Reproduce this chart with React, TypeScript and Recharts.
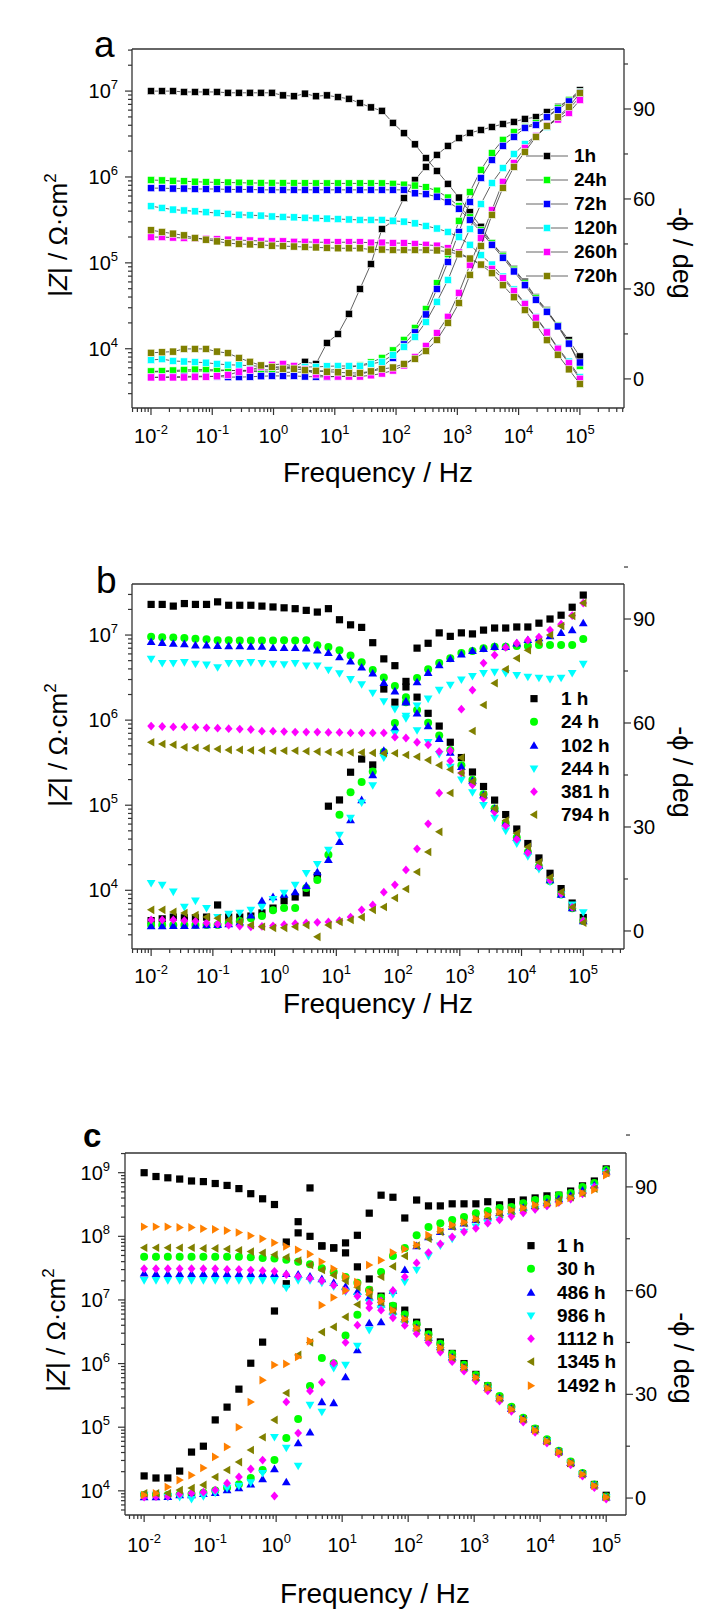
import React from "react";
import { ScatterChart, Scatter, XAxis, YAxis, Legend, ReferenceLine } from "recharts";

const FONT = '"Liberation Sans", Arial, Helvetica, sans-serif';
const AXIS = "#333333";

// measured frequencies, Hz (same set for every curve)
const FREQ = [0.01, 0.01512, 0.02286, 0.03455, 0.05223, 0.07897, 0.1194, 0.1805, 0.2728, 0.4125, 0.6236, 0.9427, 1.425, 2.154, 3.257, 4.924, 7.444, 11.25, 17.01, 25.72, 38.88, 58.78, 88.86, 134.3, 203.1, 307.0, 464.2, 701.7, 1061, 1604, 2424, 3665, 5541, 8377, 12660, 19150, 28940, 43750, 66140, 100000];

// ---- panel a : log10 |Z| and -phase (deg)
const aZ1h = [7.00, 7.00, 7.00, 6.99, 6.99, 6.99, 6.99, 6.98, 6.98, 6.98, 6.98, 6.98, 6.95, 6.94, 6.97, 6.94, 6.95, 6.93, 6.91, 6.86, 6.81, 6.77, 6.63, 6.51, 6.38, 6.22, 6.07, 5.92, 5.76, 5.59, 5.42, 5.23, 5.09, 4.93, 4.78, 4.60, 4.45, 4.27, 4.10, 3.91];
const aP1h = [2.3, 2.4, 2.5, 2.6, 2.6, 2.7, 2.7, 2.8, 2.8, 2.9, 3.0, 3.0, 3.4, 4.2, 5.7, 5.0, 12.0, 15.0, 21.7, 30.0, 38.3, 50.0, 52.7, 60.3, 66.3, 70.7, 74.7, 77.7, 80.3, 82.0, 83.0, 84.0, 85.0, 85.7, 86.7, 87.3, 89.0, 90.7, 93.0, 96.3];
const aZ24h = [5.965, 5.96, 5.955, 5.95, 5.945, 5.94, 5.937, 5.935, 5.933, 5.93, 5.93, 5.93, 5.928, 5.927, 5.926, 5.925, 5.925, 5.925, 5.925, 5.925, 5.925, 5.925, 5.92, 5.91, 5.90, 5.88, 5.84, 5.76, 5.66, 5.53, 5.38, 5.23, 5.08, 4.92, 4.76, 4.59, 4.44, 4.27, 4.07, 3.80];
const aP24h = [2.5, 2.6, 2.8, 3.0, 3.1, 3.1, 3.0, 2.9, 2.7, 2.5, 2.4, 2.3, 2.2, 2.2, 2.3, 2.5, 2.8, 3.2, 3.8, 4.5, 5.5, 7.0, 9.5, 13.0, 17.0, 23.3, 31.9, 41.6, 52.7, 62.3, 69.7, 75.3, 79.7, 82.3, 84.0, 85.3, 87.3, 90.3, 93.0, 95.7];
const aZ72h = [5.87, 5.87, 5.865, 5.865, 5.86, 5.86, 5.86, 5.855, 5.855, 5.855, 5.85, 5.85, 5.85, 5.85, 5.85, 5.85, 5.85, 5.85, 5.85, 5.85, 5.85, 5.85, 5.85, 5.85, 5.81, 5.80, 5.77, 5.71, 5.63, 5.50, 5.36, 5.21, 5.06, 4.90, 4.74, 4.57, 4.43, 4.26, 4.06, 3.84];
const aP72h = [0.5, 0.6, 0.7, 0.8, 0.9, 0.9, 0.8, 0.6, 0.6, 0.7, 0.9, 1.0, 1.0, 1.0, 0.8, 0.7, 0.7, 0.8, 1.0, 1.5, 2.5, 4.0, 7.0, 11.5, 15.5, 21.5, 30.0, 39.0, 49.0, 59.0, 67.0, 73.0, 77.7, 80.7, 83.7, 84.7, 87.3, 89.7, 92.5, 95.5];
const aZ120h = [5.66, 5.64, 5.62, 5.61, 5.60, 5.59, 5.58, 5.57, 5.56, 5.555, 5.55, 5.54, 5.535, 5.53, 5.525, 5.52, 5.515, 5.51, 5.505, 5.50, 5.50, 5.50, 5.49, 5.48, 5.46, 5.43, 5.40, 5.36, 5.30, 5.21, 5.09, 4.98, 4.84, 4.69, 4.53, 4.37, 4.20, 4.01, 3.85, 3.67];
const aP120h = [6.3, 6.6, 6.0, 5.8, 5.6, 5.4, 5.0, 4.7, 4.6, 4.4, 4.2, 4.0, 4.0, 4.0, 4.0, 4.0, 4.2, 4.3, 4.3, 4.3, 5.0, 5.7, 8.0, 10.7, 14.0, 19.0, 25.7, 33.0, 42.0, 50.0, 58.3, 65.3, 70.3, 75.0, 78.3, 81.0, 84.0, 87.0, 90.0, 94.0];
const aZ260h = [5.30, 5.30, 5.295, 5.29, 5.285, 5.28, 5.275, 5.27, 5.265, 5.26, 5.255, 5.25, 5.25, 5.245, 5.245, 5.24, 5.24, 5.24, 5.24, 5.24, 5.235, 5.235, 5.23, 5.23, 5.22, 5.21, 5.20, 5.17, 5.12, 5.05, 4.98, 4.93, 4.82, 4.67, 4.52, 4.36, 4.19, 4.00, 3.83, 3.65];
const aP260h = [0.5, 0.5, 0.5, 0.5, 0.7, 0.7, 0.9, 1.3, 2.4, 3.0, 4.0, 4.7, 5.0, 4.3, 3.2, 1.5, 0.8, 0.8, 0.8, 0.8, 1.2, 1.8, 2.8, 4.5, 7.3, 11.0, 15.3, 20.7, 28.7, 38.0, 47.0, 56.3, 65.7, 72.0, 77.0, 81.0, 84.5, 86.5, 88.7, 93.0];
const aZ720h = [5.38, 5.36, 5.34, 5.32, 5.29, 5.27, 5.25, 5.23, 5.22, 5.215, 5.21, 5.20, 5.195, 5.19, 5.185, 5.18, 5.175, 5.17, 5.17, 5.17, 5.155, 5.155, 5.15, 5.15, 5.15, 5.15, 5.145, 5.13, 5.10, 5.05, 4.98, 4.88, 4.74, 4.60, 4.45, 4.28, 4.10, 3.93, 3.76, 3.59];
const aP720h = [8.7, 8.9, 9.1, 10.0, 10.0, 10.0, 9.1, 8.6, 7.0, 5.7, 4.5, 4.0, 3.4, 3.4, 2.9, 2.7, 2.4, 2.2, 2.0, 2.0, 2.5, 3.3, 3.8, 5.0, 6.7, 9.3, 13.0, 18.7, 25.3, 34.7, 44.3, 54.7, 63.7, 70.7, 75.7, 80.7, 84.3, 87.3, 90.7, 95.3];

// ---- panel b
const bZ1h = [7.36, 7.36, 7.34, 7.37, 7.36, 7.36, 7.39, 7.35, 7.35, 7.35, 7.34, 7.33, 7.32, 7.31, 7.29, 7.27, 7.31, 7.18, 7.12, 7.09, 6.91, 6.72, 6.64, 6.39, 6.27, 6.08, 5.93, 5.74, 5.56, 5.39, 5.22, 5.06, 4.89, 4.72, 4.55, 4.38, 4.20, 4.02, 3.85, 3.68];
const bP1h = [3.0, 3.5, 4.0, 3.8, 3.8, 4.0, 7.5, 4.0, 4.0, 4.3, 5.2, 6.6, 8.7, 9.8, 11.0, 15.9, 36.0, 37.8, 45.8, 49.6, 47.9, 69.8, 66.0, 72.0, 81.6, 83.0, 86.0, 85.0, 86.0, 85.7, 86.8, 87.4, 87.4, 87.7, 87.7, 88.8, 90.0, 91.1, 93.4, 96.9];
const bZ24h = [6.98, 6.975, 6.97, 6.965, 6.955, 6.95, 6.94, 6.94, 6.935, 6.935, 6.935, 6.935, 6.94, 6.935, 6.94, 6.88, 6.86, 6.82, 6.76, 6.68, 6.59, 6.50, 6.40, 6.27, 6.12, 5.97, 5.82, 5.65, 5.47, 5.30, 5.13, 4.96, 4.79, 4.62, 4.45, 4.28, 4.11, 3.95, 3.79, 3.64];
const bP24h = [1.7, 1.7, 1.7, 1.7, 1.7, 1.7, 1.7, 2.3, 2.9, 3.7, 4.3, 6.0, 6.6, 6.6, 12.4, 14.7, 22.0, 33.5, 40.0, 43.0, 46.0, 51.6, 60.0, 66.0, 73.0, 75.5, 77.3, 78.7, 80.2, 80.8, 81.6, 82.0, 82.0, 82.2, 82.2, 82.5, 82.5, 82.5, 82.5, 84.2];
const bZ102h = [6.92, 6.91, 6.90, 6.895, 6.88, 6.88, 6.875, 6.87, 6.87, 6.865, 6.865, 6.85, 6.85, 6.85, 6.845, 6.82, 6.79, 6.74, 6.69, 6.62, 6.55, 6.44, 6.34, 6.22, 6.08, 5.93, 5.78, 5.62, 5.45, 5.29, 5.12, 4.96, 4.79, 4.62, 4.46, 4.29, 4.12, 3.95, 3.79, 3.64];
const bP102h = [1.4, 1.4, 1.5, 1.5, 1.6, 1.7, 1.8, 2.0, 2.5, 4.5, 8.7, 9.8, 10.5, 11.2, 13.0, 17.0, 20.5, 25.7, 32.0, 37.8, 45.0, 52.0, 58.6, 66.0, 71.8, 74.5, 76.7, 78.5, 79.8, 80.8, 81.4, 82.0, 82.0, 83.0, 84.0, 84.5, 85.1, 86.0, 86.8, 88.8];
const bZ244h = [6.72, 6.67, 6.67, 6.68, 6.66, 6.65, 6.62, 6.67, 6.67, 6.68, 6.67, 6.66, 6.655, 6.67, 6.64, 6.64, 6.59, 6.55, 6.48, 6.42, 6.32, 6.22, 6.13, 6.02, 5.88, 5.74, 5.60, 5.45, 5.30, 5.15, 5.00, 4.85, 4.70, 4.55, 4.40, 4.25, 4.10, 3.95, 3.83, 3.74];
const bP244h = [13.8, 13.3, 11.3, 6.9, 8.7, 6.6, 4.0, 4.9, 5.2, 6.1, 6.9, 9.2, 11.0, 13.3, 16.7, 19.3, 23.4, 27.7, 32.6, 37.0, 42.0, 50.0, 57.0, 62.0, 65.0, 67.0, 69.5, 71.0, 72.5, 73.5, 74.4, 74.7, 74.4, 73.8, 73.3, 73.0, 72.7, 73.0, 74.4, 77.0];
const bZ381h = [5.93, 5.925, 5.92, 5.92, 5.915, 5.91, 5.905, 5.90, 5.895, 5.89, 5.87, 5.87, 5.865, 5.86, 5.86, 5.86, 5.855, 5.855, 5.85, 5.85, 5.85, 5.85, 5.80, 5.79, 5.74, 5.71, 5.63, 5.52, 5.38, 5.24, 5.08, 4.92, 4.76, 4.60, 4.44, 4.28, 4.12, 3.96, 3.80, 3.64];
const bP381h = [3.2, 3.2, 3.2, 3.0, 2.8, 2.3, 2.0, 1.7, 1.4, 1.2, 1.3, 1.5, 1.8, 2.1, 2.3, 2.5, 2.6, 3.0, 4.0, 6.1, 7.5, 11.2, 13.3, 17.6, 23.7, 30.9, 39.8, 52.0, 64.0, 69.5, 77.3, 79.6, 81.8, 83.0, 83.9, 84.8, 86.8, 88.5, 91.0, 94.6];
const bZ794h = [5.74, 5.72, 5.71, 5.68, 5.675, 5.67, 5.66, 5.65, 5.65, 5.645, 5.645, 5.64, 5.64, 5.64, 5.635, 5.63, 5.625, 5.62, 5.62, 5.62, 5.615, 5.61, 5.61, 5.59, 5.57, 5.53, 5.47, 5.42, 5.38, 5.28, 5.12, 4.96, 4.82, 4.67, 4.51, 4.33, 4.15, 3.98, 3.80, 3.62];
const bP794h = [6.1, 6.1, 5.5, 5.2, 4.6, 4.0, 3.7, 3.2, 2.6, 1.7, 1.2, 0.9, 0.9, 1.2, 1.7, -1.7, 1.7, 2.6, 3.2, 4.0, 6.1, 6.9, 9.5, 12.1, 17.0, 22.8, 28.6, 39.8, 50.0, 57.7, 65.2, 71.5, 75.5, 78.7, 81.0, 83.4, 85.4, 88.0, 90.9, 94.6];

// ---- panel c
const cZ1h = [9.00, 8.94, 8.92, 8.90, 8.87, 8.86, 8.83, 8.80, 8.75, 8.67, 8.59, 8.50, 7.91, 8.23, 8.00, 7.85, 7.82, 7.74, 7.52, 7.33, 7.06, 6.90, 6.84, 6.65, 6.50, 6.34, 6.16, 6.00, 5.83, 5.65, 5.47, 5.30, 5.13, 4.97, 4.78, 4.61, 4.43, 4.27, 4.10, 3.93];
const cP1h = [6.4, 5.8, 5.8, 7.8, 13.3, 15.0, 22.6, 26.3, 31.5, 39.0, 45.1, 54.1, 62.0, 76.7, 89.7, 72.9, 72.3, 73.8, 76.0, 82.4, 87.6, 87.0, 81.0, 86.2, 84.5, 84.5, 85.1, 85.1, 85.1, 85.7, 84.8, 85.7, 86.2, 86.8, 87.4, 87.6, 88.8, 90.3, 91.7, 95.2];
const cZ30h = [7.68, 7.68, 7.68, 7.68, 7.68, 7.68, 7.68, 7.68, 7.68, 7.67, 7.66, 7.65, 7.63, 7.60, 7.56, 7.50, 7.44, 7.36, 7.27, 7.16, 7.04, 6.91, 6.77, 6.62, 6.46, 6.31, 6.15, 5.98, 5.82, 5.65, 5.49, 5.32, 5.15, 4.98, 4.81, 4.63, 4.46, 4.28, 4.10, 3.91];
const cP30h = [0.9, 0.9, 0.9, 1.0, 1.2, 1.5, 2.2, 3.0, 4.0, 5.8, 8.1, 11.0, 17.4, 22.9, 32.4, 40.5, 39.0, 47.0, 53.0, 60.0, 65.4, 70.0, 72.3, 76.0, 78.4, 79.5, 80.4, 81.3, 82.4, 83.0, 83.9, 84.2, 85.3, 86.2, 86.6, 87.6, 88.2, 90.0, 91.1, 94.9];
const cZ486h = [7.42, 7.41, 7.41, 7.41, 7.41, 7.41, 7.41, 7.41, 7.41, 7.41, 7.41, 7.41, 7.41, 7.40, 7.37, 7.33, 7.27, 7.21, 7.13, 7.04, 6.93, 6.82, 6.70, 6.56, 6.41, 6.26, 6.10, 5.94, 5.78, 5.62, 5.46, 5.29, 5.13, 4.96, 4.79, 4.62, 4.44, 4.27, 4.09, 3.90];
const cP486h = [0.3, 0.3, 0.4, 0.9, 0.9, 1.2, 1.5, 2.3, 2.9, 4.0, 5.5, 8.4, 4.6, 15.9, 19.0, 27.8, 27.5, 35.0, 42.8, 50.6, 50.9, 60.0, 66.0, 72.9, 75.5, 77.0, 78.5, 79.5, 80.5, 81.5, 82.5, 83.0, 84.0, 84.5, 85.5, 86.5, 87.5, 89.0, 90.5, 94.5];
const cZ986h = [7.31, 7.31, 7.31, 7.31, 7.31, 7.31, 7.31, 7.31, 7.31, 7.31, 7.31, 7.31, 7.19, 7.31, 7.31, 7.27, 7.21, 7.13, 7.05, 6.96, 6.86, 6.74, 6.62, 6.49, 6.36, 6.21, 6.06, 5.91, 5.76, 5.60, 5.44, 5.28, 5.11, 4.95, 4.78, 4.61, 4.44, 4.26, 4.08, 3.90];
const cP986h = [0.9, 0.9, 0.3, 0.3, -0.3, 0.5, 1.5, 2.9, 3.5, 4.5, 7.2, 17.6, 14.5, 9.3, 26.9, 24.9, 37.6, 38.5, 44.0, 48.6, 54.7, 59.0, 62.5, 66.0, 70.0, 73.0, 75.0, 77.0, 78.5, 79.5, 80.5, 81.5, 82.5, 83.5, 84.5, 85.5, 86.5, 88.0, 90.0, 94.0];
const cZ1112h = [7.49, 7.49, 7.49, 7.49, 7.49, 7.49, 7.49, 7.48, 7.48, 7.47, 7.46, 7.45, 7.40, 7.37, 7.34, 7.30, 7.23, 7.15, 7.06, 6.95, 6.84, 6.72, 6.60, 6.47, 6.33, 6.18, 6.03, 5.88, 5.73, 5.57, 5.41, 5.25, 5.08, 4.92, 4.75, 4.58, 4.41, 4.23, 4.05, 3.87];
const cP1112h = [0.3, 0.4, 0.5, 1.2, 1.4, 1.7, 2.3, 4.3, 6.1, 8.4, 11.0, 0.6, 27.8, 18.8, 31.0, 33.5, 39.0, 45.0, 50.0, 55.0, 57.0, 60.0, 64.0, 68.0, 71.0, 73.5, 75.5, 77.0, 78.0, 79.5, 80.5, 81.5, 82.5, 83.5, 84.5, 85.5, 86.5, 88.0, 90.0, 94.0];
const cZ1345h = [7.82, 7.82, 7.82, 7.82, 7.82, 7.81, 7.81, 7.80, 7.78, 7.76, 7.74, 7.71, 7.67, 7.62, 7.55, 7.47, 7.39, 7.30, 7.20, 7.08, 6.96, 6.83, 6.69, 6.55, 6.40, 6.25, 6.09, 5.94, 5.78, 5.62, 5.45, 5.29, 5.12, 4.95, 4.78, 4.61, 4.44, 4.26, 4.08, 3.90];
const cP1345h = [1.4, 1.4, 1.4, 2.3, 2.9, 3.8, 6.1, 8.1, 10.4, 13.9, 17.6, 22.6, 30.4, 41.4, 45.0, 48.0, 49.5, 52.4, 56.0, 60.0, 64.0, 67.0, 70.0, 73.0, 75.0, 77.0, 78.5, 79.5, 80.5, 81.5, 82.2, 83.0, 83.8, 84.5, 85.3, 86.2, 87.0, 88.2, 89.5, 94.0];
const cZ1492h = [8.15, 8.15, 8.15, 8.14, 8.14, 8.12, 8.11, 8.09, 8.06, 8.01, 7.96, 7.90, 7.84, 7.79, 7.72, 7.60, 7.49, 7.37, 7.25, 7.12, 6.98, 6.84, 6.70, 6.56, 6.41, 6.25, 6.10, 5.94, 5.78, 5.61, 5.45, 5.28, 5.12, 4.95, 4.78, 4.61, 4.44, 4.26, 4.08, 3.90];
const cP1492h = [0.9, 1.4, 3.2, 5.2, 6.6, 8.7, 11.9, 14.8, 20.5, 27.8, 34.1, 38.5, 38.8, 40.8, 45.4, 55.8, 58.0, 60.0, 62.5, 67.4, 68.8, 71.0, 72.0, 73.2, 76.1, 77.5, 79.0, 79.8, 80.8, 81.9, 82.7, 83.3, 83.9, 84.8, 85.0, 85.3, 86.8, 88.2, 89.1, 93.4];

// ---- axes
const X_LABELS = [-2, -1, 0, 1, 2, 3, 4, 5];
const DECADES = [-3, -2, -1, 0, 1, 2, 3, 4, 5, 6, 7, 8, 9];
const MANTISSA = [1, 2, 3, 4, 5, 6, 7, 8, 9];
const PHASE_TICKS = [0, 15, 30, 45, 60, 75, 90, 105];
const PHASE_LABELS = [0, 30, 60, 90];

const BLACK = "#000000";
const GREEN = "#00ff00";
const BLUE = "#0000ff";
const CYAN = "#00ffff";
const MAGENTA = "#ff00ff";
const OLIVE = "#808000";
const ORANGE = "#ff8000";

type Kind = "square" | "circle" | "up" | "down" | "diamond" | "left" | "right";
type Series = { name: string; color: string; kind: Kind; z: number[]; p: number[] };

const A_SERIES: Series[] = [
  { name: "1h", color: BLACK, kind: "square", z: aZ1h, p: aP1h },
  { name: "24h", color: GREEN, kind: "square", z: aZ24h, p: aP24h },
  { name: "72h", color: BLUE, kind: "square", z: aZ72h, p: aP72h },
  { name: "120h", color: CYAN, kind: "square", z: aZ120h, p: aP120h },
  { name: "260h", color: MAGENTA, kind: "square", z: aZ260h, p: aP260h },
  { name: "720h", color: OLIVE, kind: "square", z: aZ720h, p: aP720h },
];
const B_SERIES: Series[] = [
  { name: "1 h", color: BLACK, kind: "square", z: bZ1h, p: bP1h },
  { name: "24 h", color: GREEN, kind: "circle", z: bZ24h, p: bP24h },
  { name: "102 h", color: BLUE, kind: "up", z: bZ102h, p: bP102h },
  { name: "244 h", color: CYAN, kind: "down", z: bZ244h, p: bP244h },
  { name: "381 h", color: MAGENTA, kind: "diamond", z: bZ381h, p: bP381h },
  { name: "794 h", color: OLIVE, kind: "left", z: bZ794h, p: bP794h },
];
const C_SERIES: Series[] = [
  { name: "1 h", color: BLACK, kind: "square", z: cZ1h, p: cP1h },
  { name: "30 h", color: GREEN, kind: "circle", z: cZ30h, p: cP30h },
  { name: "486 h", color: BLUE, kind: "up", z: cZ486h, p: cP486h },
  { name: "986 h", color: CYAN, kind: "down", z: cZ986h, p: cP986h },
  { name: "1112 h", color: MAGENTA, kind: "diamond", z: cZ1112h, p: cP1112h },
  { name: "1345 h", color: OLIVE, kind: "left", z: cZ1345h, p: cP1345h },
  { name: "1492 h", color: ORANGE, kind: "right", z: cZ1492h, p: cP1492h },
];

const zRows = (arr: number[]) => FREQ.map((f, i) => ({ f, v: Math.pow(10, arr[i]) }));
const pRows = (arr: number[]) => FREQ.map((f, i) => ({ f, v: arr[i] }));

function logTicks(dom: number[]) {
  const out: number[] = [];
  DECADES.forEach((d) =>
    MANTISSA.forEach((m) => {
      const v = m * Math.pow(10, d);
      if (v >= dom[0] && v <= dom[1]) out.push(v);
    })
  );
  return out;
}

function Mark({ kind, cx, cy, color, outline }: { kind: Kind; cx: number; cy: number; color: string; outline?: boolean }) {
  const st = outline ? { stroke: "#ffffff", strokeWidth: 0.6 } : { stroke: "none" };
  if (kind === "square") return <rect x={cx - 3.6} y={cy - 3.6} width={7.2} height={7.2} fill={color} {...st} />;
  if (kind === "circle") return <circle cx={cx} cy={cy} r={4} fill={color} {...st} />;
  let d = "";
  if (kind === "up") d = `M${cx},${cy - 4.4} L${cx + 4.4},${cy + 3.2} L${cx - 4.4},${cy + 3.2} Z`;
  if (kind === "down") d = `M${cx},${cy + 4.4} L${cx + 4.4},${cy - 3.2} L${cx - 4.4},${cy - 3.2} Z`;
  if (kind === "left") d = `M${cx - 4.2},${cy} L${cx + 3.2},${cy - 4.3} L${cx + 3.2},${cy + 4.3} Z`;
  if (kind === "right") d = `M${cx + 4.2},${cy} L${cx - 3.2},${cy - 4.3} L${cx - 3.2},${cy + 4.3} Z`;
  if (kind === "diamond") d = `M${cx},${cy - 4.4} L${cx + 3.9},${cy} L${cx},${cy + 4.4} L${cx - 3.9},${cy} Z`;
  return <path d={d} fill={color} {...st} />;
}

const isDecade = (v: number) => {
  const e = Math.log10(v);
  return Math.abs(e - Math.round(e)) < 1e-6;
};

function Pow({ x, y, e, anchor }: { x: number; y: number; e: number; anchor: "start" | "middle" | "end" }) {
  return (
    <text x={x} y={y} textAnchor={anchor} fontFamily={FONT} fontSize={20} fill="#000">
      10
      <tspan fontSize={13} dy={-9}>
        {e}
      </tspan>
    </text>
  );
}

type Cfg = {
  top: number;
  height: number;
  mTop: number;
  leftW: number;
  rightW: number;
  xAxisH: number;
  xDom: number[];
  zDom: number[];
  pDom: number[];
  xLabelDy: number;
  zGap: number;
  zLabels: number[];
  series: Series[];
  connect: boolean;
  legend: { left: number; top: number; rowH: number; svgW: number; gap: number };
};

const PANEL_A: Cfg = {
  top: 0, height: 500, mTop: 49, leftW: 132, rightW: 92, xAxisH: 92,
  xDom: [0.0049, 525000], zDom: [2042, 3.09e7], pDom: [-9.7, 110],
  xLabelDy: 35, zGap: 14, zLabels: [4, 5, 6, 7], series: A_SERIES, connect: true,
  legend: { left: 525, top: 144, rowH: 24, svgW: 44, gap: 5 },
};
const PANEL_B: Cfg = {
  top: 520, height: 500, mTop: 64, leftW: 132, rightW: 92, xAxisH: 71,
  xDom: [0.0049, 457000], zDom: [2042, 3.98e7], pDom: [-5.2, 100.1],
  xLabelDy: 34, zGap: 14, zLabels: [4, 5, 6, 7], series: B_SERIES, connect: false,
  legend: { left: 521, top: 167, rowH: 23.3, svgW: 26, gap: 14 },
};
const PANEL_C: Cfg = {
  top: 1080, height: 538, mTop: 73, leftW: 125, rightW: 90, xAxisH: 103,
  xDom: [0.00513, 199500], zDom: [4169, 2.04e9], pDom: [-4.9, 99.8],
  xLabelDy: 37, zGap: 15, zLabels: [4, 5, 6, 7, 8, 9], series: C_SERIES, connect: false,
  legend: { left: 518, top: 154, rowH: 23.3, svgW: 26, gap: 13 },
};

function Panel({ cfg }: { cfg: Cfg }) {
  const xTicks = logTicks(cfg.xDom);
  const zTicks = logTicks(cfg.zDom);
  const axisLine = { stroke: AXIS, strokeWidth: 1.3 };
  const lg = cfg.legend;

  const xTick = (p: any) => {
    const v = p.payload.value;
    const major = isDecade(v);
    const e = Math.round(Math.log10(v));
    return (
      <g>
        <line x1={p.x} x2={p.x} y1={p.y} y2={p.y + (major ? 7 : 4)} stroke={AXIS} strokeWidth={1.2} />
        {major && X_LABELS.includes(e) && <Pow x={p.x} y={p.y + cfg.xLabelDy} e={e} anchor="middle" />}
      </g>
    );
  };
  const zTick = (p: any) => {
    const v = p.payload.value;
    const major = isDecade(v);
    const e = Math.round(Math.log10(v));
    return (
      <g>
        <line x1={p.x} x2={p.x - (major ? 7 : 4)} y1={p.y} y2={p.y} stroke={AXIS} strokeWidth={1.2} />
        {major && cfg.zLabels.includes(e) && <Pow x={p.x - cfg.zGap} y={p.y + 7} e={e} anchor="end" />}
      </g>
    );
  };
  const pTick = (p: any) => {
    const v = p.payload.value;
    const major = PHASE_LABELS.includes(v);
    return (
      <g>
        <line x1={p.x} x2={p.x + (major ? 7 : 4)} y1={p.y} y2={p.y} stroke={AXIS} strokeWidth={1.2} />
        {major && (
          <text x={p.x + 9} y={p.y + 7} fontFamily={FONT} fontSize={20} fill="#000">
            {v}
          </text>
        )}
      </g>
    );
  };

  const legendBox = () => (
    <div style={{ fontFamily: FONT }}>
      {cfg.series.map((s) => (
        <div key={s.name} style={{ display: "flex", alignItems: "center", height: lg.rowH }}>
          <svg width={lg.svgW} height={lg.rowH} style={{ display: "block" }}>
            {cfg.connect && (
              <line x1={1} x2={lg.svgW - 1} y1={lg.rowH / 2} y2={lg.rowH / 2} stroke="#666" strokeWidth={1} />
            )}
            <Mark kind={s.kind} cx={lg.svgW / 2} cy={lg.rowH / 2} color={s.color} outline={cfg.connect} />
          </svg>
          <span style={{ marginLeft: lg.gap, fontWeight: "bold", fontSize: 19, lineHeight: `${lg.rowH}px`, color: "#000", whiteSpace: "nowrap" }}>
            {s.name}
          </span>
        </div>
      ))}
    </div>
  );

  return (
    <div style={{ position: "absolute", left: 0, top: cfg.top }}>
      <ScatterChart width={716} height={cfg.height} margin={{ top: cfg.mTop, right: 0, bottom: 0, left: 0 }}>
        <XAxis
          xAxisId="x" dataKey="f" type="number" scale="log" domain={cfg.xDom} allowDataOverflow
          ticks={xTicks} interval={0} tickLine={false} tickSize={0} tickMargin={0}
          height={cfg.xAxisH} axisLine={axisLine} tick={xTick}
        />
        <YAxis
          yAxisId="z" dataKey="v" type="number" scale="log" domain={cfg.zDom} allowDataOverflow
          ticks={zTicks} interval={0} tickLine={false} tickSize={0} tickMargin={0}
          width={cfg.leftW} axisLine={axisLine} tick={zTick}
        />
        <YAxis
          yAxisId="p" orientation="right" dataKey="v" type="number" domain={cfg.pDom} allowDataOverflow
          ticks={PHASE_TICKS} interval={0} tickLine={false} tickSize={0} tickMargin={0}
          width={cfg.rightW} axisLine={axisLine} tick={pTick}
        />
        <ReferenceLine xAxisId="x" yAxisId="z" y={cfg.zDom[1]} stroke={AXIS} strokeWidth={1.3} ifOverflow="visible" />
        {cfg.series.flatMap((s) => [
          <Scatter
            key={s.name + "-z"} name={s.name} data={zRows(s.z)} xAxisId="x" yAxisId="z" fill={s.color}
            shape={(p: any) => <Mark kind={s.kind} cx={p.cx} cy={p.cy} color={s.color} outline={cfg.connect} />}
            line={cfg.connect ? { stroke: "#3a3a3a", strokeWidth: 0.8 } : false}
            isAnimationActive={false}
          />,
          <Scatter
            key={s.name + "-p"} name={s.name + " phase"} data={pRows(s.p)} xAxisId="x" yAxisId="p" fill={s.color}
            shape={(p: any) => <Mark kind={s.kind} cx={p.cx} cy={p.cy} color={s.color} outline={cfg.connect} />}
            line={cfg.connect ? { stroke: "#3a3a3a", strokeWidth: 0.8 } : false}
            isAnimationActive={false}
          />,
        ])}
        <Legend
          layout="vertical" align="center" verticalAlign="middle"
          wrapperStyle={{ left: lg.left, top: lg.top, width: "auto", height: "auto" }}
          content={legendBox}
        />
      </ScatterChart>
    </div>
  );
}

function Titles() {
  const t = { fontFamily: FONT, fill: "#000" } as const;
  const zLabel = (x: number, y: number) => (
    <text transform={`translate(${x},${y}) rotate(-90)`} textAnchor="middle" fontSize={26} {...t}>
      |<tspan fontStyle="italic">Z</tspan>| / Ω·cm
      <tspan fontSize={17} dy={-11}>2</tspan>
    </text>
  );
  const pLabel = (x: number, y: number) => (
    <text transform={`translate(${x},${y}) rotate(90)`} textAnchor="middle" fontSize={27} {...t}>
      -ϕ / deg
    </text>
  );
  const fLabel = (x: number, y: number) => (
    <text x={x} y={y} textAnchor="middle" fontSize={28} {...t}>
      Frequency / Hz
    </text>
  );
  return (
    <svg width={716} height={1618} style={{ position: "absolute", left: 0, top: 0, pointerEvents: "none" }}>
      <text x={94} y={57} fontSize={37} {...t}>a</text>
      <text x={96} y={593} fontSize={37} {...t}>b</text>
      <text x={83} y={1147} fontSize={33} fontWeight="bold" {...t}>c</text>
      {zLabel(67, 235)}
      {zLabel(67, 745)}
      {zLabel(65, 1330)}
      {pLabel(673, 253)}
      {pLabel(673, 772)}
      {pLabel(674, 1358)}
      {fLabel(378, 482)}
      {fLabel(378, 1013)}
      {fLabel(375, 1603)}
    </svg>
  );
}

export default function App() {
  return (
    <div style={{ position: "absolute", left: 0, top: 0, width: 716, height: 1618, background: "#fff", overflow: "hidden" }}>
      <Panel cfg={PANEL_A} />
      <Panel cfg={PANEL_B} />
      <Panel cfg={PANEL_C} />
      <Titles />
    </div>
  );
}
